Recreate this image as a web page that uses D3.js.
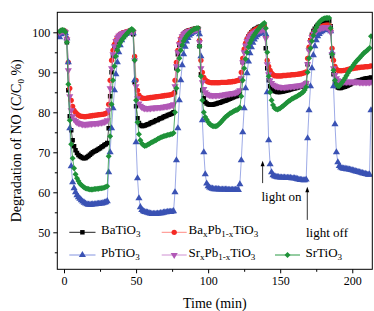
<!DOCTYPE html>
<html>
<head>
<meta charset="utf-8">
<script src="https://cdn.jsdelivr.net/npm/d3@7"></script>
<style>
  body { margin: 0; background: #fff; }
  text { font-family: "Liberation Serif", "Times New Roman", serif; fill: #000; }
</style>
</head>
<body>
<svg id="chart" width="374" height="311"></svg>
<script>
// sampling: one reading per minute, starting at t = -3 min
const timeStart = -3;
const timeStep = 1;

// NO degradation C/C0 (%), one value per minute
const baTiO3 = [
  99.8, 100.2, 100.4, 100.3, 99.9, 97.5,
  85.5, 79, 75.5, 73, 71.5, 70.5, 69.8, 69.3, 69, 68.8, 68.6, 68.5, 68.6, 68.8, 69.1, 69.4, 69.7, 70, 70.2, 70.4, 70.6, 70.8, 71, 71.3, 71.5, 71.8, 72, 72.3,
  76, 84, 90, 94, 96.3, 97.7, 98.5, 99, 99.4, 99.6, 99.8, 99.9, 100, 100.1, 100.2, 100.3, 100.2, 99.5,
  87.5, 81.5, 78.5, 77.3, 76.8, 76.6, 76.6, 76.7, 76.8, 77, 77.1, 77.3, 77.5, 77.6, 77.8, 78, 78.1, 78.3, 78.5, 78.6, 78.8, 79, 79.1, 79.3, 79.4, 79.6, 79.7, 80,
  85, 91, 94.5, 96.8, 98.2, 99, 99.6, 100, 100.2, 100.4, 100.5, 100.6, 100.7, 100.8, 100.9, 100.9, 101, 96.5,
  89.5, 85.5, 83.5, 82.6, 82.2, 82, 81.9, 81.9, 81.9, 82, 82.1, 82.2, 82.3, 82.4, 82.5, 82.7, 82.8, 82.9, 83.1, 83.2, 83.4, 83.5, 83.7, 83.8, 84, 84.1, 84.3, 84.6,
  88, 92.5, 95.3, 97, 98.2, 99, 99.6, 100, 100.4, 100.7, 100.9, 101.1, 101.3, 101.4, 101.5, 101.6, 101.6, 96,
  91, 88, 86.5, 85.8, 85.5, 85.3, 85.2, 85.1, 85.1, 85.1, 85.2, 85.2, 85.3, 85.4, 85.5, 85.6, 85.7, 85.8, 85.9, 86, 86.1, 86.2, 86.3, 86.4, 86.5, 86.7, 86.9, 87.3,
  92, 95.8, 98, 99.4, 100.3, 100.9, 101.4, 101.8, 102.1, 102.3, 102.5, 102.6, 102.7, 102.7, 102.8, 102.8, 101.5,
  94, 89.5, 87.5, 86.6, 86.2, 86.1, 86.1, 86.2, 86.3, 86.4, 86.6, 86.7, 86.9, 87.1, 87.3, 87.5, 87.6, 87.8, 87.9, 88, 88.1, 88.2, 88.3, 88.4, 88.5, 88.5, 88.6,
  88.7
];
const baPbTiO3 = [
  99.9, 100.3, 100.5, 100.4, 100.2, 98.5,
  92.5, 86, 83, 81.5, 80.5, 80, 79.6, 79.3, 79.1, 79, 79, 78.9, 78.9, 79, 79, 79.1, 79.1, 79.2, 79.2, 79.3, 79.3, 79.4, 79.4, 79.5, 79.5, 79.6, 79.7, 79.9,
  82, 88, 93, 95.5, 97, 98, 98.7, 99.2, 99.5, 99.7, 99.9, 100, 100.1, 100.2, 100.3, 100.4, 100.5, 100.3,
  94, 88, 85.5, 84.3, 83.8, 83.6, 83.5, 83.5, 83.5, 83.6, 83.6, 83.7, 83.7, 83.8, 83.8, 83.9, 83.9, 84, 84, 84.1, 84.1, 84.2, 84.2, 84.3, 84.3, 84.4, 84.5, 84.7,
  88, 92.5, 95.5, 97.3, 98.4, 99.1, 99.6, 99.9, 100.1, 100.3, 100.4, 100.5, 100.6, 100.7, 100.8, 100.8, 100.9, 98,
  93, 90, 88.7, 88.1, 87.8, 87.6, 87.5, 87.4, 87.4, 87.4, 87.4, 87.4, 87.4, 87.4, 87.5, 87.5, 87.5, 87.5, 87.5, 87.6, 87.6, 87.6, 87.7, 87.7, 87.8, 87.9, 88, 88.3,
  90, 93.5, 95.8, 97.3, 98.3, 99, 99.5, 99.9, 100.2, 100.5, 100.7, 100.9, 101.1, 101.3, 101.4, 101.5, 101.5, 99,
  93, 91.5, 90.5, 89.8, 89.4, 89.2, 89.1, 89.1, 89.1, 89.1, 89.1, 89.2, 89.2, 89.2, 89.3, 89.3, 89.3, 89.4, 89.4, 89.4, 89.5, 89.5, 89.6, 89.6, 89.7, 89.8, 89.9, 90.1,
  93.5, 96.3, 98, 99.1, 99.8, 100.3, 100.7, 101, 101.2, 101.4, 101.5, 101.6, 101.7, 101.8, 101.8, 101.8, 100.5,
  96, 93, 91.5, 90.8, 90.5, 90.4, 90.4, 90.4, 90.5, 90.5, 90.6, 90.7, 90.8, 90.9, 90.9, 91, 91.1, 91.1, 91.2, 91.2, 91.3, 91.3, 91.3, 91.4, 91.4, 91.4, 91.5,
  91.6
];
const pbTiO3 = [
  98.8, 99.5, 99.8, 100, 99.8, 98.5,
  92.5, 76, 66.5, 62.5, 61, 60, 59.3, 58.8, 58.4, 58, 57.7, 57.4, 57.2, 57, 56.9, 56.9, 56.9, 57, 57, 57, 57.1, 57.1, 57.2, 57.2, 57.3, 57.4, 57.5, 57.8,
  65, 70, 76, 81, 85.5, 89.5, 92.5, 95, 96.8, 98, 98.8, 99.3, 99.6, 99.8, 100, 100.1, 100.2, 99.8,
  88, 72.5, 63.5, 58.5, 56.3, 55.6, 55.3, 55.1, 55, 54.9, 54.8, 54.7, 54.6, 54.6, 54.6, 54.6, 54.7, 54.7, 54.8, 54.8, 54.9, 55, 55, 55.1, 55.1, 55.1, 55.2, 55.3,
  60, 68, 76, 83, 88, 91.8, 94.5, 96.4, 97.7, 98.6, 99.2, 99.6, 99.9, 100.1, 100.3, 100.4, 100.5, 99.5,
  94, 78, 70, 64.5, 62.2, 61.5, 61.2, 61, 60.9, 60.8, 60.8, 60.8, 60.8, 60.7, 60.7, 60.7, 60.7, 60.7, 60.7, 60.6, 60.6, 60.6, 60.6, 60.6, 60.6, 60.6, 60.6, 62,
  68, 75, 81, 86, 89.8, 92.7, 94.8, 96.3, 97.4, 98.2, 98.8, 99.3, 99.6, 99.8, 100, 100.1, 100.2, 99.5,
  85, 73, 67, 65, 64.3, 64, 63.9, 63.8, 63.8, 63.7, 63.7, 63.7, 63.7, 63.6, 63.6, 63.6, 63.6, 63.5, 63.5, 63.5, 63.4, 63.3, 63.2, 63.1, 63.1, 63, 63, 63.2,
  73.5, 80.5, 86.5, 91, 94.3, 96.5, 98, 99, 99.6, 100, 100.3, 100.5, 100.6, 100.7, 100.7, 100.7, 100.3,
  95, 86.5, 77, 70, 67.5, 66.6, 66.2, 66, 65.9, 65.9, 65.8, 65.8, 65.7, 65.6, 65.5, 65.4, 65.3, 65.2, 65.1, 65, 64.9, 64.8, 64.7, 64.6, 64.5, 64.4, 64.4,
  80.5
];
const srPbTiO3 = [
  99.9, 100.2, 100.4, 100.3, 100, 98.2,
  90.5, 84, 80.5, 79, 78.2, 77.8, 77.5, 77.3, 77.2, 77.1, 77, 77, 77, 77, 77.1, 77.1, 77.1, 77.2, 77.2, 77.2, 77.3, 77.3, 77.4, 77.4, 77.5, 77.6, 77.7, 78,
  80.5, 86, 91, 94.5, 96.5, 97.8, 98.6, 99.1, 99.4, 99.6, 99.8, 99.9, 100, 100.1, 100.2, 100.3, 100.3, 100,
  93, 86.5, 83.5, 82.2, 81.6, 81.3, 81.1, 81, 81, 81, 81, 81, 81.1, 81.1, 81.1, 81.2, 81.2, 81.2, 81.3, 81.3, 81.4, 81.4, 81.5, 81.5, 81.6, 81.7, 81.8, 82,
  86.5, 91.5, 95, 97, 98.2, 99, 99.5, 99.8, 100, 100.2, 100.3, 100.4, 100.5, 100.6, 100.6, 100.7, 100.7, 97.5,
  91, 87.5, 85.8, 85, 84.6, 84.4, 84.3, 84.2, 84.2, 84.2, 84.2, 84.2, 84.3, 84.3, 84.3, 84.4, 84.4, 84.5, 84.5, 84.6, 84.6, 84.7, 84.8, 84.8, 84.9, 85, 85.2, 85.5,
  88.5, 92.5, 95, 96.7, 97.8, 98.5, 99, 99.4, 99.7, 99.9, 100.1, 100.3, 100.4, 100.5, 100.6, 100.7, 100.7, 98.5,
  92, 89.5, 88, 87.3, 86.9, 86.7, 86.5, 86.4, 86.4, 86.3, 86.3, 86.3, 86.3, 86.3, 86.4, 86.4, 86.4, 86.5, 86.5, 86.5, 86.6, 86.6, 86.7, 86.7, 86.8, 86.9, 87, 87.3,
  92, 95.5, 97.5, 98.8, 99.6, 100.1, 100.4, 100.7, 100.9, 101, 101.1, 101.2, 101.3, 101.3, 101.3, 101.3, 100,
  94.5, 91, 89.3, 88.5, 88, 87.8, 87.7, 87.6, 87.6, 87.6, 87.6, 87.6, 87.6, 87.6, 87.6, 87.6, 87.6, 87.6, 87.6, 87.5, 87.5, 87.5, 87.5, 87.5, 87.5, 87.5, 87.5,
  87.6
];
const srTiO3 = [
  100.2, 100.5, 100.6, 100.5, 100.1, 97.5,
  87, 78, 72, 68.5, 66, 64.5, 63.5, 62.8, 62.2, 61.8, 61.5, 61.2, 61, 60.9, 60.8, 60.7, 60.7, 60.7, 60.8, 60.8, 60.9, 60.9, 61, 61, 61.1, 61.2, 61.3, 61.5,
  69, 74, 82, 88, 91.5, 94, 95.5, 96.6, 97.4, 98, 98.5, 99, 99.4, 99.8, 100.2, 100.6, 100.8, 100.5,
  93, 83, 77.5, 74.5, 73, 72.2, 71.8, 71.6, 71.7, 71.9, 72.1, 72.3, 72.5, 72.7, 72.9, 73.1, 73.3, 73.5, 73.7, 73.8, 74, 74.1, 74.2, 74.3, 74.4, 74.5, 74.6, 74.8,
  80, 86, 90.5, 93.5, 95.5, 96.8, 97.8, 98.5, 99.1, 99.5, 99.9, 100.2, 100.5, 100.7, 100.9, 101, 101.1, 96.5,
  89, 83, 80, 78.8, 78.2, 77.6, 77.1, 76.8, 76.6, 76.5, 76.5, 76.6, 76.9, 77.2, 77.6, 78, 78.4, 78.8, 79.1, 79.4, 79.7, 79.9, 80.1, 80.3, 80.5, 80.6, 80.8, 81.2,
  84, 88, 91, 93.3, 95, 96.3, 97.3, 98.1, 98.8, 99.4, 99.9, 100.4, 100.8, 101.3, 101.7, 102, 102.3, 101,
  95, 89, 85, 83, 81.8, 81.1, 80.8, 80.7, 80.8, 81, 81.3, 81.6, 81.9, 82.2, 82.5, 82.8, 83, 83.3, 83.5, 83.7, 83.9, 84.1, 84.3, 84.5, 84.8, 85.1, 85.6, 86.3,
  90, 93.5, 96, 97.8, 99.2, 100.3, 101.2, 101.9, 102.5, 102.9, 103.2, 103.4, 103.5, 103.6, 103.6, 103.6, 101,
  94.5, 90.5, 88, 87, 86.5, 86.6, 87, 87.5, 88, 88.6, 89.2, 89.8, 90.4, 90.9, 91.4, 91.9, 92.4, 92.8, 93.2, 93.6, 94, 94.4, 94.8, 95.1, 95.4, 95.7, 96.1,
  99
];

// axis ticks
const xTicks = [0, 50, 100, 150, 200];
const xMinorTicks = [25, 75, 125, 175];
const yTicks = [50, 60, 70, 80, 90, 100];
const yMinorTicks = [45, 55, 65, 75, 85, 95];

// plot styling per series (drawn in legend order)
const series = [
  { name: [["BaTiO", ""], ["3", "sub"]], values: baTiO3, marker: "#000000", line: "#222222", symbol: "square" },
  { name: [["Ba", ""], ["x", "sub"], ["Pb", ""], ["1-x", "sub"], ["TiO", ""], ["3", "sub"]], values: baPbTiO3, marker: "#f42a24", line: "#ff8a84", symbol: "circle" },
  { name: [["PbTiO", ""], ["3", "sub"]], values: pbTiO3, marker: "#3a52b4", line: "#8494e0", symbol: "triangle" },
  { name: [["Sr", ""], ["x", "sub"], ["Pb", ""], ["1-x", "sub"], ["TiO", ""], ["3", "sub"]], values: srPbTiO3, marker: "#b158b6", line: "#cf90d2", symbol: "triangleDown" },
  { name: [["SrTiO", ""], ["3", "sub"]], values: srTiO3, marker: "#1f9239", line: "#2a9a44", symbol: "diamond" }
];

const svg = d3.select("#chart");
const margin = { left: 57.3, top: 12.3, right: 1.7, bottom: 41.7 };
const W = 374, H = 311;

const x = d3.scaleLinear().domain([-4.65, 213.9]).range([margin.left, W - margin.right]);
const y = d3.scaleLinear().domain([40.75, 105]).range([H - margin.bottom, margin.top]);

// symbol generators
function symbolPath(kind) {
  if (kind === "square") return d3.symbol(d3.symbolSquare, 20)();
  if (kind === "circle") return d3.symbol(d3.symbolCircle, 22)();
  if (kind === "triangle") return d3.symbol(d3.symbolTriangle, 22)();
  if (kind === "triangleDown") return d3.symbol(d3.symbolTriangle, 22)();
  return d3.symbol(d3.symbolSquare, 18)();
}
function symbolRotate(kind) {
  if (kind === "triangleDown") return " rotate(180)";
  if (kind === "diamond") return " rotate(45)";
  return "";
}

svg.append("clipPath").attr("id", "plotClip")
  .append("rect")
  .attr("x", margin.left).attr("y", margin.top)
  .attr("width", W - margin.left - margin.right)
  .attr("height", H - margin.top - margin.bottom);

const plot = svg.append("g").attr("clip-path", "url(#plotClip)");

const line = d3.line()
  .x(d => x(d.t))
  .y(d => y(d.v));

series.forEach(s => {
  const pts = s.values.map((v, i) => ({ t: timeStart + i * timeStep, v: v }));
  plot.append("path")
    .datum(pts)
    .attr("d", line)
    .attr("fill", "none")
    .attr("stroke", s.line)
    .attr("stroke-width", 0.8);
  plot.append("g").selectAll("path")
    .data(pts)
    .enter().append("path")
    .attr("d", symbolPath(s.symbol))
    .attr("transform", d => `translate(${x(d.t)},${y(d.v)})` + symbolRotate(s.symbol))
    .attr("fill", s.marker);
});

// frame
svg.append("rect")
  .attr("x", margin.left).attr("y", margin.top)
  .attr("width", W - margin.left - margin.right)
  .attr("height", H - margin.top - margin.bottom)
  .attr("fill", "none")
  .attr("stroke", "#000")
  .attr("stroke-width", 1);

// axes
svg.append("g")
  .attr("transform", `translate(0,${H - margin.bottom})`)
  .call(d3.axisBottom(x).tickValues(xTicks).tickSize(4).tickPadding(3.5));
svg.append("g")
  .attr("transform", `translate(0,${H - margin.bottom})`)
  .call(d3.axisBottom(x).tickValues(xMinorTicks).tickSize(2.5).tickFormat(""));
svg.append("g")
  .attr("transform", `translate(${margin.left},0)`)
  .call(d3.axisLeft(y).tickValues(yTicks).tickSize(4).tickPadding(3));
svg.append("g")
  .attr("transform", `translate(${margin.left},0)`)
  .call(d3.axisLeft(y).tickValues(yMinorTicks).tickSize(2.5).tickFormat(""));

svg.selectAll(".domain").remove();
svg.selectAll(".tick line").attr("stroke", "#000");
svg.selectAll(".tick text")
  .style("font-family", "'Liberation Serif', 'Times New Roman', serif")
  .style("font-size", "12px")
  .attr("fill", "#000");

// axis titles
svg.append("text")
  .attr("x", (margin.left + W - margin.right) / 2)
  .attr("y", 308)
  .attr("text-anchor", "middle")
  .style("font-size", "14px")
  .text("Time (min)");

const yTitle = svg.append("text")
  .attr("transform", `translate(20.5,${(margin.top + H - margin.bottom) / 2}) rotate(-90)`)
  .attr("text-anchor", "middle")
  .style("font-size", "14px");
yTitle.append("tspan").text("Degradation of NO (C/C");
yTitle.append("tspan").attr("dy", 3).style("font-size", "9px").text("0");
yTitle.append("tspan").attr("dy", -3).text(" %)");

// legend
const legendPos = [
  { lx: 69.3, rx: 95.5, ty: 232.3, tx: 101 },
  { lx: 161.7, rx: 186.7, ty: 232.3, tx: 188.5 },
  { lx: 69.3, rx: 95.5, ty: 255, tx: 101 },
  { lx: 161.7, rx: 186.7, ty: 255, tx: 188.5 },
  { lx: 275, rx: 300, ty: 255, tx: 305.5 }
];
series.forEach((s, i) => {
  const p = legendPos[i];
  const g = svg.append("g");
  g.append("line")
    .attr("x1", p.lx).attr("x2", p.rx)
    .attr("y1", p.ty).attr("y2", p.ty)
    .attr("stroke", s.line).attr("stroke-width", 1);
  g.append("path")
    .attr("d", symbolPath(s.symbol))
    .attr("transform", `translate(${(p.lx + p.rx) / 2},${p.ty})` + symbolRotate(s.symbol))
    .attr("fill", s.marker);
  const t = g.append("text")
    .attr("x", p.tx).attr("y", p.ty + 4.5)
    .style("font-size", "13px");
  s.name.forEach(([str, kind]) => {
    if (kind === "sub") {
      t.append("tspan").attr("dy", 3).style("font-size", "9px").text(str);
    } else {
      t.append("tspan").attr("dy", t.node().childNodes.length ? -3 : 0).text(str);
    }
  });
});

// light on / light off annotations: arrow at time t, tail and head in data units
const annotations = [
  { label: "light on", t: 137.8, from: 62.3, to: 67.9, textV: 58.9, textX: 261.5 },
  { label: "light off", t: 168.8, from: 53.1, to: 61.4, textV: 49.9, textX: 306 }
];
annotations.forEach(a => {
  const ax = x(a.t);
  svg.append("line")
    .attr("x1", ax).attr("x2", ax)
    .attr("y1", y(a.from)).attr("y2", y(a.to) + 4)
    .attr("stroke", "#000").attr("stroke-width", 0.8);
  svg.append("path")
    .attr("d", `M${ax},${y(a.to)} L${ax - 2},${y(a.to) + 5.5} L${ax + 2},${y(a.to) + 5.5} Z`)
    .attr("fill", "#000");
  svg.append("text")
    .attr("x", a.textX)
    .attr("y", y(a.textV) + 4.5)
    .style("font-size", "13px")
    .text(a.label);
});
</script>
</body>
</html>
